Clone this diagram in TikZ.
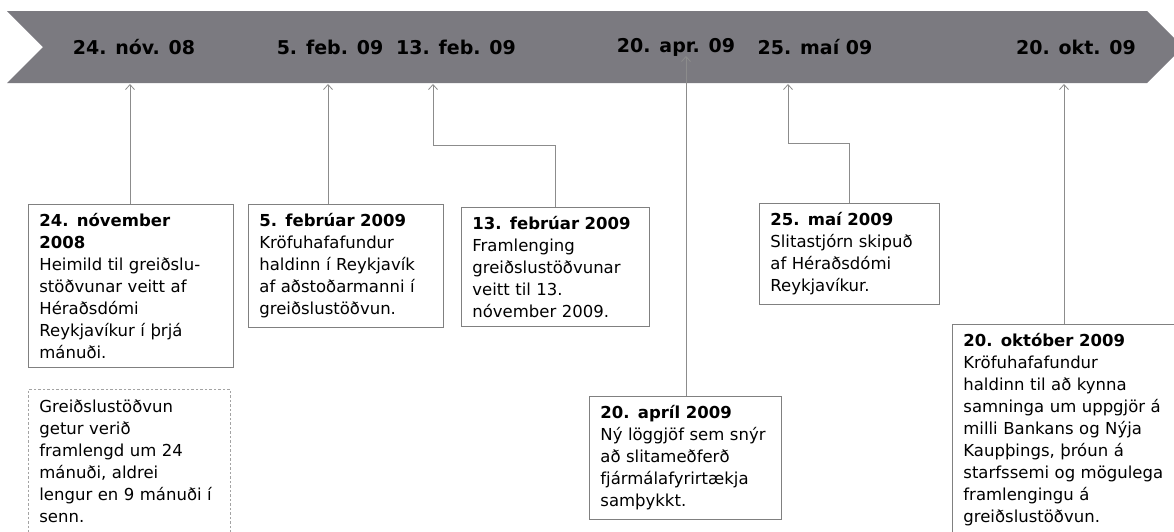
\documentclass[tikz,border=0pt]{standalone}
\usepackage{fontspec}
\setmainfont{DejaVu Sans}
\usetikzlibrary{arrows.meta}

\definecolor{bannergray}{RGB}{123,122,128}
\definecolor{linegray}{RGB}{140,140,140}
\definecolor{boxgray}{RGB}{128,128,128}

\begin{document}
\begin{tikzpicture}[x=1pt,y=-1pt,
  datelabel/.style={font=\fontsize{19}{22}\selectfont\bfseries, text=black},
  eventbox/.style={draw=boxgray, line width=0.8pt, fill=white, anchor=north west, align=left,
    inner xsep=11pt, inner ysep=9pt, font=\fontsize{16.5}{22}\selectfont},
  notebox/.style={eventbox, draw=linegray!80, inner ysep=10.5pt, dash pattern=on 2.5pt off 2pt},
  conn/.style={draw=linegray, line width=0.8pt, -{Straight Barb[length=5pt,width=9pt]}}]
\useasboundingbox (0,0) rectangle (1174,531);
\clip (0,0) rectangle (1174,531);

%Shape: Banner
\fill [bannergray] (7,11) -- (1147,11) -- (1183,47) -- (1147,83) -- (7,83) -- (43,47) -- cycle ;

%Coordinates on the banner
\coordinate (tnov) at (130,84);
\coordinate (tfeba) at (328,84);
\coordinate (tfebb) at (433,84);
\coordinate (tapr) at (686,56);
\coordinate (tmai) at (788,84);
\coordinate (tokt) at (1064,84);

% Text Node
\node [eventbox, text width=183pt] (nov) at (28,204) {\textbf{24. nóvember}\\\textbf{2008}\\Heimild til greiðslu-\\stöðvunar veitt af\\Héraðsdómi\\Reykjavíkur í þrjá\\mánuði.};
% Text Node
\node [notebox, text width=180pt] (note) at (28,389) {Greiðslustöðvun\\getur verið\\framlengd um 24\\mánuði, aldrei\\lengur en 9 mánuði í\\senn.};
% Text Node
\node [eventbox, text width=173pt] (feba) at (248,204) {\textbf{5. febrúar 2009}\\Kröfuhafafundur\\haldinn í Reykjavík\\af aðstoðarmanni í\\greiðslustöðvun.};
% Text Node
\node [eventbox, text width=166pt] (febb) at (461,207) {\textbf{13. febrúar 2009}\\Framlenging\\greiðslustöðvunar\\veitt til 13.\\nóvember 2009.};
% Text Node
\node [eventbox, text width=170pt] (apr) at (589,396) {\textbf{20. apríl 2009}\\Ný löggjöf sem snýr\\að slitameðferð\\fjármálafyrirtækja\\samþykkt.};
% Text Node
\node [eventbox, text width=158pt] (mai) at (759,203) {\textbf{25. maí 2009}\\Slitastjórn skipuð\\af Héraðsdómi\\Reykjavíkur.};
% Text Node
\node [eventbox, text width=215pt] (okt) at (952,324) {\textbf{20. október 2009}\\Kröfuhafafundur\\haldinn til að kynna\\samninga um uppgjör á\\milli Bankans og Nýja\\Kaupþings, þróun á\\starfssemi og mögulega\\framlengingu á\\greiðslustöðvun.};

%Straight Lines
\draw [conn] (nov.north -| tnov) -- (tnov) ;
\draw [conn] (feba.north -| tfeba) -- (tfeba) ;
\draw [conn] (febb.north) -- ++(0,-62) -| (tfebb) ;
\draw [conn] (apr.north -| tapr) -- (tapr) ;
\draw [conn] (mai.north) -- ++(0,-60) -| (tmai) ;
\draw [conn] (okt.north -| tokt) -- (tokt) ;

% Text Node
\node [datelabel] (dnov) at (134,47) {24. nóv. 08};
% Text Node
\node [datelabel] (dfeba) at (330,47) {5. feb. 09};
% Text Node
\node [datelabel] (dfebb) at (456,47) {13. feb. 09};
% Text Node
\node [datelabel] (dapr) at (676,47) {20. apr. 09};
% Text Node
\node [datelabel] (dmai) at (815,47) {25. maí 09};
% Text Node
\node [datelabel] (dokt) at (1076,47) {20. okt. 09};

\end{tikzpicture}
\end{document}
